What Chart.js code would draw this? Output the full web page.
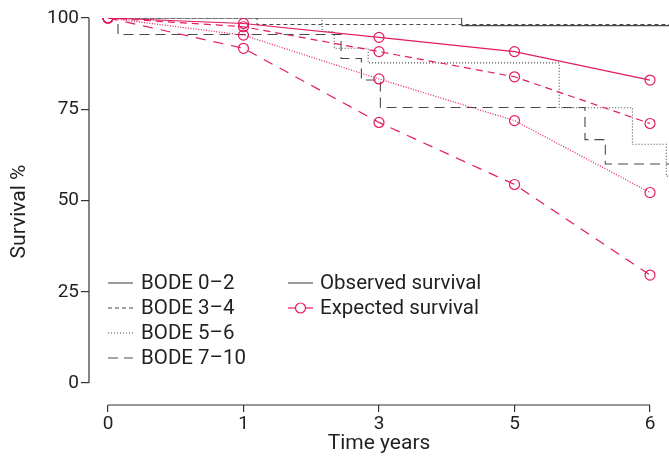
<!DOCTYPE html>
<html><head><meta charset="utf-8">
<script src="https://cdn.jsdelivr.net/npm/chart.js@4.4.0/dist/chart.umd.min.js"></script>
<style>html,body{margin:0;padding:0;background:#fff}#wrap{width:669px;height:457px;position:relative}</style>
</head><body>
<div id="wrap"><canvas id="c" width="669" height="457"></canvas></div>
<script>
// ---- data ----
const xTickPositions = [0, 1, 2, 3, 4];
const xTickLabels = ['0', '1', '3', '5', '6'];
const yTickValues = [0, 25, 50, 75, 100];
const groupLabels = ['BODE 0–2', 'BODE 3–4', 'BODE 5–6', 'BODE 7–10'];
const typeLabels = ['Observed survival', 'Expected survival'];

// observed Kaplan-Meier steps: [axis position, survival %]
const observed02 = [[0, 100], [2.61, 97.9], [4.14, 97.9]];
const observed34 = [[0, 100], [1.10, 98.2], [4.14, 98.2]];
const observed56 = [[0, 100], [1.58, 96.3], [1.67, 91.7], [1.92, 87.7], [3.33, 75.4], [3.87, 65.4], [4.12, 56.7], [4.14, 56.7]];
const observed710 = [[0, 100], [0.074, 95.5], [1.72, 88.9], [1.87, 83.0], [2.01, 75.5], [3.52, 66.7], [3.67, 60.0], [4.14, 60.0]];

// expected survival at the tick positions
const expected02 = [100, 98.5, 94.7, 90.8, 83.0];
const expected34 = [100, 97.6, 90.8, 83.9, 71.1];
const expected56 = [100, 95.3, 83.3, 71.9, 52.2];
const expected710 = [100, 91.7, 71.4, 54.4, 29.6];

// ---- styles ----
const GREY = '#4a4a4a';
const RED = '#e31c5b';
const TEXT = '#231f20';
const FONT = 'Roboto';
const greyDash = [[], [4, 3], [1, 2], [10, 6]];
const redDash = [[], [7, 5], [1, 1.6], [10, 8]];

const observed = [observed02, observed34, observed56, observed710];
const expected = [expected02, expected34, expected56, expected710];

const datasets = [];
observed.forEach((s, i) => {
  datasets.push({
    label: groupLabels[i] + ' observed',
    data: s.map(p => ({x: p[0], y: p[1]})),
    stepped: 'before',
    borderColor: GREY, borderWidth: 1.1, borderDash: greyDash[i],
    pointRadius: 0, fill: false, order: 2
  });
});
expected.forEach((s, i) => {
  datasets.push({
    label: groupLabels[i] + ' expected',
    data: s.map((v, k) => ({x: xTickPositions[k], y: v})),
    borderColor: RED, borderWidth: 1.2, borderDash: redDash[i],
    pointRadius: 5, pointBorderWidth: 1.2, pointBorderColor: RED,
    pointBackgroundColor: 'rgba(0,0,0,0)', pointStyle: 'circle',
    fill: false, order: 1
  });
});

const axesAndLegend = {
  id: 'axesAndLegend',
  afterDraw(chart) {
    const ctx = chart.ctx, xs = chart.scales.x, ys = chart.scales.y;
    ctx.save();
    ctx.strokeStyle = '#333'; ctx.lineWidth = 1.2; ctx.setLineDash([]);
    const ax = chart.chartArea.left;
    ctx.beginPath();
    ctx.moveTo(ax, ys.getPixelForValue(yTickValues[0]));
    ctx.lineTo(ax, ys.getPixelForValue(yTickValues[yTickValues.length - 1]));
    ctx.stroke();
    const ay = chart.chartArea.bottom;
    ctx.beginPath();
    ctx.moveTo(xs.getPixelForValue(xTickPositions[0]), ay);
    ctx.lineTo(xs.getPixelForValue(xTickPositions[xTickPositions.length - 1]), ay);
    ctx.stroke();

    // legend
    ctx.font = '20.5px ' + FONT;
    ctx.fillStyle = TEXT;
    ctx.textBaseline = 'middle';
    ctx.textAlign = 'left';
    const c1 = 108, c2 = 288, row0 = 283, dy = 25, sw = 25;
    groupLabels.forEach((t, i) => {
      const y = row0 + i * dy;
      ctx.strokeStyle = GREY; ctx.lineWidth = 1.1;
      ctx.setLineDash(greyDash[i]);
      ctx.beginPath(); ctx.moveTo(c1, y); ctx.lineTo(c1 + sw, y); ctx.stroke();
      ctx.setLineDash([]);
      ctx.fillText(t, c1 + sw + 8, y + 1);
    });
    let y = row0;
    ctx.strokeStyle = GREY; ctx.lineWidth = 1.1;
    ctx.beginPath(); ctx.moveTo(c2, y); ctx.lineTo(c2 + sw, y); ctx.stroke();
    ctx.fillText(typeLabels[0], c2 + sw + 7, y + 1);
    y = row0 + dy;
    ctx.strokeStyle = RED; ctx.lineWidth = 1.2;
    ctx.beginPath(); ctx.moveTo(c2, y); ctx.lineTo(c2 + sw, y); ctx.stroke();
    ctx.beginPath(); ctx.arc(c2 + sw / 2, y, 5, 0, Math.PI * 2);
    ctx.fillStyle = '#fff'; ctx.fill(); ctx.stroke();
    ctx.fillStyle = TEXT;
    ctx.fillText(typeLabels[1], c2 + sw + 7, y + 1);
    ctx.restore();
  }
};

new Chart(document.getElementById('c'), {
  type: 'line',
  data: {datasets},
  options: {
    responsive: false, animation: false,
    layout: {autoPadding: false, padding: {top: 18, right: 0, bottom: 0, left: 0}},
    plugins: {legend: {display: false}, tooltip: {enabled: false}},
    elements: {line: {tension: 0}},
    scales: {
      x: {
        type: 'linear', min: -0.14, max: 4.14,
        afterBuildTicks: s => { s.ticks = xTickPositions.map(v => ({value: v})); },
        afterFit: s => { s.height = 52; },
        ticks: {
          callback: (v) => { const i = xTickPositions.indexOf(v); return i >= 0 ? xTickLabels[i] : ''; },
          font: {family: FONT, size: 19}, color: TEXT, padding: 1, maxRotation: 0, autoSkip: false
        },
        grid: {drawOnChartArea: false, drawTicks: true, tickLength: 7, color: '#333', lineWidth: 1.2},
        border: {display: false},
        title: {display: true, text: 'Time years', font: {family: FONT, size: 21}, color: TEXT, padding: {top: 1, bottom: 1}}
      },
      y: {
        type: 'linear', min: -6, max: 100,
        afterBuildTicks: s => { s.ticks = yTickValues.map(v => ({value: v})); },
        afterFit: s => { s.width = 89; },
        ticks: {font: {family: FONT, size: 19}, color: TEXT, padding: 2, autoSkip: false},
        grid: {drawOnChartArea: false, drawTicks: true, tickLength: 8, color: '#333', lineWidth: 1.2},
        border: {display: false},
        title: {display: true, text: 'Survival %', font: {family: FONT, size: 21}, color: TEXT, padding: {top: 7, bottom: 7}}
      }
    }
  },
  plugins: [axesAndLegend]
});
</script>
</body></html>
